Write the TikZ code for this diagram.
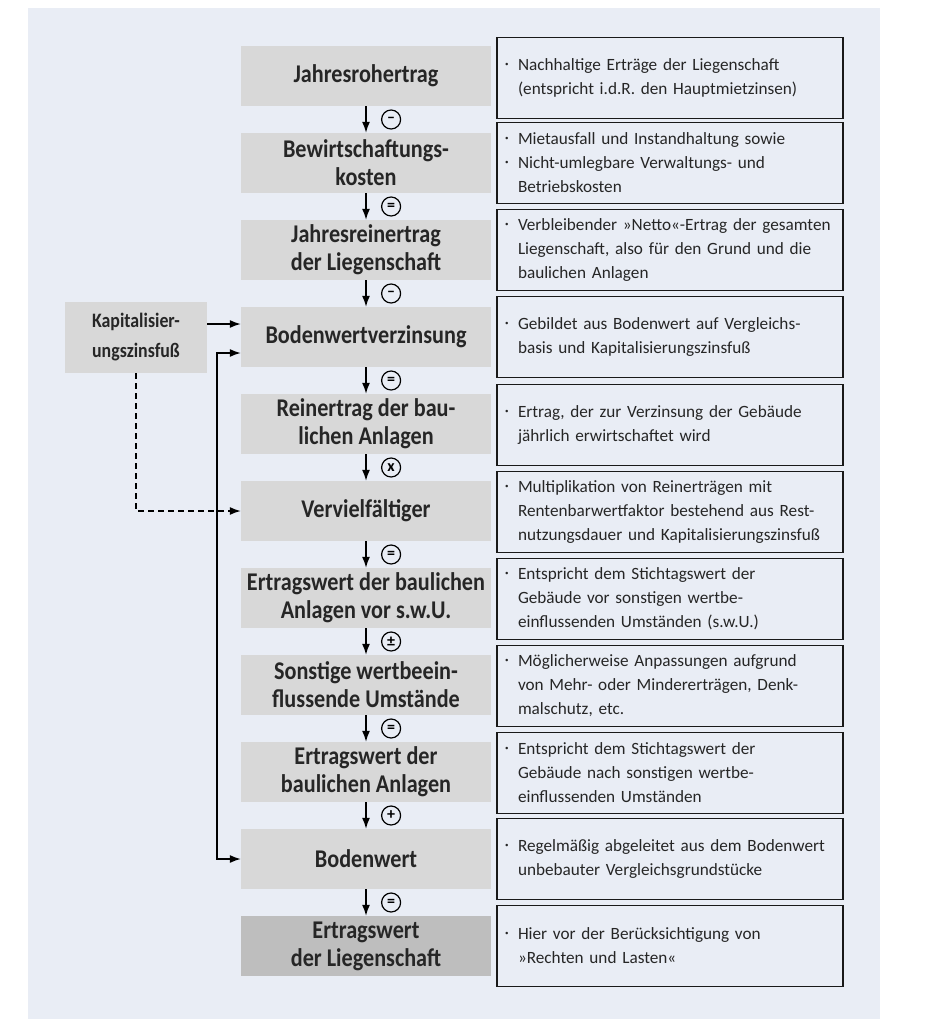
\documentclass[tikz,border=0pt]{standalone}
\usepackage{fontspec}
\setmainfont{Carlito}
\newfontfamily\boxFont{Carlito}[FakeStretch=0.87]
\usetikzlibrary{positioning,arrows.meta}
\definecolor{panel}{RGB}{233,237,245}
\definecolor{boxGray}{RGB}{216,216,216}
\definecolor{resultGray}{RGB}{190,190,190}
\newcommand{\bul}{\makebox[13pt][l]{\raisebox{4pt}{\fontsize{7}{7}\selectfont\textbullet}}}
\newcommand{\ind}{\hspace*{13pt}}
\tikzset{
  valueBox/.style={rectangle, fill=boxGray, minimum width=250pt, minimum height=60pt, align=center, text=black!85, font={\boxFont\bfseries\fontsize{25.5}{28}\selectfont}},
  resultBox/.style={valueBox, fill=resultGray},
  noteBox/.style={rectangle, draw=black!90, line width=1.6pt, fill=panel, minimum width=346pt, minimum height=81pt, text width=330pt, inner xsep=8pt, align=left, text=black!85, font={\fontsize{17.2}{24}\selectfont}},
  opSign/.style={circle, draw, line width=1.2pt, minimum size=19pt, inner sep=0pt, font={\bfseries\fontsize{16}{16}\selectfont}},
  applyOp/.style={-{Latex[length=11pt,width=8pt]}, line width=1.4pt}
}

\begin{document}
\begin{tikzpicture}[x=1pt, y=-1pt]
      \useasboundingbox (0,0) rectangle (925,1031);
      \fill[panel] (28,8) rectangle (880,1019);

      % left column
      \node[valueBox] (rohertrag) at (366,76) {Jahresrohertrag};
      \node[valueBox] (bewKosten) at (366,163) {Bewirtschaftungs-\\kosten};
      \node[valueBox] (reinertrag) at (366,250) {Jahresreinertrag\\der Liegenschaft};
      \node[valueBox] (bwVerz) at (366,337) {Bodenwertverzinsung};
      \node[valueBox] (reinBau) at (366,424) {Reinertrag der bau-\\lichen Anlagen};
      \node[valueBox] (vervf) at (366,511) {Vervielfältiger};
      \node[valueBox] (ewVor) at (366,598) {Ertragswert der baulichen\\Anlagen vor s.w.U.};
      \node[valueBox] (sonstige) at (366,685) {Sonstige wertbeein-\\flussende Umstände};
      \node[valueBox] (ewBau) at (366,772) {Ertragswert der\\baulichen Anlagen};
      \node[valueBox] (bodenwert) at (366,859) {Bodenwert};
      \node[resultBox] (ertragswert) at (366,946) {Ertragswert\\der Liegenschaft};

      \node[valueBox, minimum width=142pt, minimum height=71pt, font={\boxFont\bfseries\fontsize{20.5}{30}\selectfont}] (kapZins) at (136,337.5) {Kapitalisier-\\ungszinsfuß};

      % notes
      \node[noteBox] (nRohertrag) at (670,78) {\bul Nachhaltige Erträge der Liegenschaft\\\ind(entspricht i.d.R. den Hauptmietzinsen)};
      \node[noteBox] (nBewKosten) at (670,163) {\bul Mietausfall und Instandhaltung sowie\\\bul Nicht-umlegbare Verwaltungs- und\\\ind Betriebskosten};
      \node[noteBox] (nReinertrag) at (670,250) {\bul Verbleibender »Netto«-Ertrag der gesamten\\\ind Liegenschaft, also für den Grund und die\\\ind baulichen Anlagen};
      \node[noteBox] (nBwVerz) at (670,337) {\bul Gebildet aus Bodenwert auf Vergleichs-\\\ind basis und Kapitalisierungszinsfuß};
      \node[noteBox] (nReinBau) at (670,425) {\bul Ertrag, der zur Verzinsung der Gebäude\\\ind jährlich erwirtschaftet wird};
      \node[noteBox] (nVervf) at (670,512) {\bul Multiplikation von Reinerträgen mit\\\ind Rentenbarwertfaktor bestehend aus Rest-\\\ind nutzungsdauer und Kapitalisierungszinsfuß};
      \node[noteBox] (nEwVor) at (670,599) {\bul Entspricht dem Stichtagswert der\\\ind Gebäude vor sonstigen wertbe-\\\ind einflussenden Umständen (s.w.U.)};
      \node[noteBox] (nSonstige) at (670,686) {\bul Möglicherweise Anpassungen aufgrund\\\ind von Mehr- oder Mindererträgen, Denk-\\\ind malschutz, etc.};
      \node[noteBox] (nEwBau) at (670,773) {\bul Entspricht dem Stichtagswert der\\\ind Gebäude nach sonstigen wertbe-\\\ind einflussenden Umständen};
      \node[noteBox] (nBodenwert) at (670,859) {\bul Regelmäßig abgeleitet aus dem Bodenwert\\\ind unbebauter Vergleichsgrundstücke};
      \node[noteBox] (nErtragswert) at (670,946) {\bul Hier vor der Berücksichtigung von\\\ind »Rechten und Lasten«};

      % operations
      \draw[applyOp] (rohertrag) -- (bewKosten) node[midway, right=15pt, opSign] (op1) {–};
      \draw[applyOp] (bewKosten) -- (reinertrag) node[midway, right=15pt, opSign] (op2) {=};
      \draw[applyOp] (reinertrag) -- (bwVerz) node[midway, right=15pt, opSign] (op3) {–};
      \draw[applyOp] (bwVerz) -- (reinBau) node[midway, right=15pt, opSign] (op4) {=};
      \draw[applyOp] (reinBau) -- (vervf) node[midway, right=15pt, opSign] (op5) {x};
      \draw[applyOp] (vervf) -- (ewVor) node[midway, right=15pt, opSign] (op6) {=};
      \draw[applyOp] (ewVor) -- (sonstige) node[midway, right=15pt, opSign] (op7) {±};
      \draw[applyOp] (sonstige) -- (ewBau) node[midway, right=15pt, opSign] (op8) {=};
      \draw[applyOp] (ewBau) -- (bodenwert) node[midway, right=15pt, opSign] (op9) {+};
      \draw[applyOp] (bodenwert) -- (ertragswert) node[midway, right=15pt, opSign] (op10) {=};

      % inputs
      \draw[applyOp] ([yshift=13.5pt]kapZins.east) -- ([yshift=13pt]bwVerz.west);
      \draw[applyOp, dash pattern=on 6pt off 4pt] (kapZins.south) |- (vervf.west);
      \draw[applyOp, {Latex[length=11pt,width=8pt]}-{Latex[length=11pt,width=8pt]}] ([yshift=-16pt]bwVerz.west) -- ++(-24,0) |- (bodenwert.west);

    \end{tikzpicture}
\end{document}
